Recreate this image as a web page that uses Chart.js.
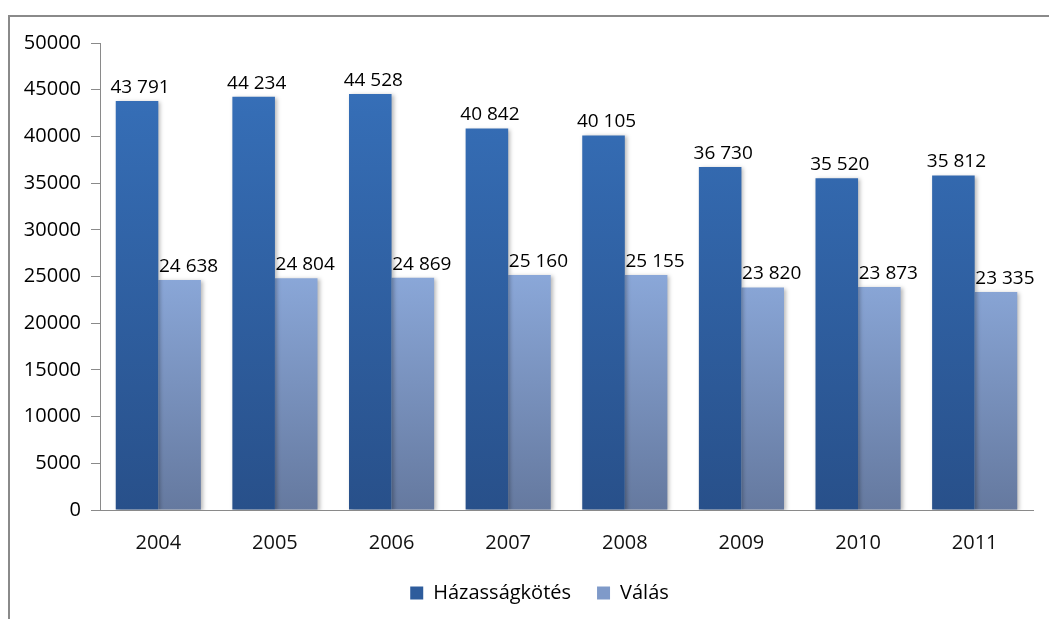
<!DOCTYPE html>
<html>
<head>
<meta charset="utf-8">
<script src="https://cdn.jsdelivr.net/npm/chart.js@4/dist/chart.umd.min.js"></script>
<style>
  html, body { margin: 0; padding: 0; background: #fff; overflow: hidden; }
  #frame { position: absolute; left: 8px; top: 15px; width: 1100px; height: 700px; border: 2px solid #8a8a8a; }
  #wrap { position: absolute; left: 0; top: 0; width: 1049px; height: 619px; }
</style>
</head>
<body>
<div id="frame"></div>
<div id="wrap"><canvas id="chart" width="1049" height="619"></canvas></div>
<script>
var years = ["2004", "2005", "2006", "2007", "2008", "2009", "2010", "2011"];
var marriages = [43791, 44234, 44528, 40842, 40105, 36730, 35520, 35812];
var divorces = [24638, 24804, 24869, 25160, 25155, 23820, 23873, 23335];
var seriesNames = ["Házasságkötés", "Válás"];

var font = "'Open Sans', 'DejaVu Sans', sans-serif";

function fmt(v) {
    // thousands with a space, like "43 791"
    return String(v).replace(/\B(?=(\d{3})+(?!\d))/g, " ");
}

function grad(stops, solid) {
    return function(c) {
        var ca = c.chart.chartArea;
        if (!ca) return solid;
        var g = c.chart.ctx.createLinearGradient(0, ca.top, 0, ca.bottom);
        stops.forEach(function(s) { g.addColorStop(s[0], s[1]); });
        return g;
    };
}

var shadowPlugin = {
    id: 'shadow',
    beforeDatasetsDraw: function(chart) {
        var ctx = chart.ctx;
        ctx.save();
        ctx.shadowColor = 'rgba(0,0,0,0.28)';
        ctx.shadowBlur = 4;
        ctx.shadowOffsetX = 2;
        ctx.shadowOffsetY = 1;
    },
    afterDatasetsDraw: function(chart) {
        chart.ctx.restore();
    }
};

// value labels sit a bit right of the bar centre in the original
var labelShift = [3, 9];
var labelPlugin = {
    id: 'valueLabels',
    afterDatasetsDraw: function(chart) {
        var ctx = chart.ctx;
        ctx.save();
        ctx.font = "19px " + font;
        ctx.fillStyle = '#000';
        ctx.textAlign = 'center';
        ctx.textBaseline = 'bottom';
        chart.data.datasets.forEach(function(ds, i) {
            var meta = chart.getDatasetMeta(i);
            meta.data.forEach(function(el, j) {
                ctx.fillText(fmt(ds.data[j]), el.x + labelShift[i], el.y - 4);
            });
        });
        ctx.restore();
    }
};

// nudge the legend right, as in the original
var legendShift = {
    id: 'legendShift',
    afterLayout: function(chart) {
        if (chart.legend) {
            chart.legend.left += 23;
            chart.legend.right += 23;
        }
    }
};

var ctx = document.getElementById('chart').getContext('2d');
var chart = new Chart(ctx, {
    type: 'bar',
    data: {
        labels: years,
        datasets: [{
            label: seriesNames[0],
            data: marriages,
            backgroundColor: grad([[0, '#3a74bf'], [0.15, '#356db5'], [1, '#28508a']], '#2e5c9c'),
            borderWidth: 0
        }, {
            label: seriesNames[1],
            data: divorces,
            backgroundColor: grad([[0, '#9db8e6'], [0.5, '#8aa7d8'], [1, '#65799f']], '#7f9ac9'),
            borderWidth: 0
        }]
    },
    options: {
        responsive: false,
        animation: false,
        layout: { padding: { top: 43, right: 16, left: 0, bottom: 6 } },
        datasets: { bar: { categoryPercentage: 0.73, barPercentage: 1.0 } },
        scales: {
            x: {
                grid: { display: false, drawTicks: false },
                border: { display: true, color: '#8a8a8a', width: 1 },
                ticks: { color: '#111', font: { family: font, size: 20 }, padding: 21 },
                afterFit: function(s) { s.height = 47; }
            },
            y: {
                min: 0,
                max: 50000,
                grid: { drawOnChartArea: false, drawTicks: true, tickLength: 9, color: '#8a8a8a' },
                border: { display: true, color: '#8a8a8a', width: 1 },
                ticks: {
                    stepSize: 5000,
                    color: '#000',
                    font: { family: font, size: 20 },
                    padding: 10,
                    callback: function(v) { return String(v); }
                },
                afterFit: function(s) { s.width = 100; }
            }
        },
        plugins: {
            legend: {
                position: 'bottom',
                labels: {
                    color: '#111',
                    font: { family: font, size: 20 },
                    boxWidth: 13,
                    boxHeight: 13,
                    padding: 26,
                    generateLabels: function(chart) {
                        var cols = ['#2e5c9c', '#7f9ac9'];
                        return chart.data.datasets.map(function(ds, i) {
                            return { text: ds.label, fillStyle: cols[i], strokeStyle: cols[i], lineWidth: 0, datasetIndex: i };
                        });
                    }
                }
            },
            tooltip: { enabled: false }
        }
    },
    plugins: [shadowPlugin, labelPlugin, legendShift]
});
</script>
</body>
</html>
